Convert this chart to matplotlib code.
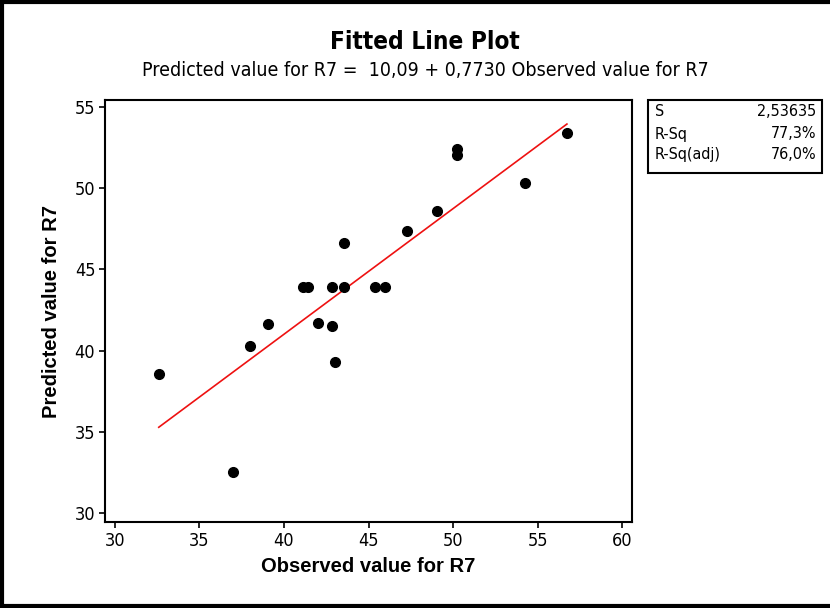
import matplotlib
matplotlib.use("Agg")
import matplotlib.pyplot as plt
from matplotlib.lines import Line2D
from matplotlib.patches import Rectangle
import numpy as np

observed = [32.59, 36.97, 38.00, 39.08, 41.10, 41.45, 42.04, 42.87, 42.87, 42.99,
            43.58, 43.58, 45.36, 45.95, 47.27, 49.04, 50.22, 50.22, 54.26, 56.74]
predicted = [38.58, 32.55, 40.30, 41.66, 43.90, 43.90, 41.68, 43.90, 41.54, 39.32,
             46.61, 43.90, 43.90, 43.90, 47.34, 48.58, 52.41, 52.02, 50.32, 53.40]
intercept = 10.09
slope = 0.7730
stat_names = ["S", "R-Sq", "R-Sq(adj)"]
stat_values = ["2,53635", "77,3%", "76,0%"]
xticks = [30, 35, 40, 45, 50, 55, 60]
yticks = [30, 35, 40, 45, 50, 55]

plt.rcParams['font.family'] = ['DejaVu Sans']
plt.rcParams['font.stretch'] = 'condensed'

W, H = 830, 608
fig = plt.figure(figsize=(W / 100, H / 100), dpi=100)

def fx(px):
    return px / W

def fy(py):
    return 1 - py / H

ax = fig.add_axes([fx(105), fy(522), fx(632) - fx(105), fy(100) - fy(522)])
ax.set_xlim(29.41, 60.59)
ax.set_ylim(29.45, 55.43)
ax.set_xticks(xticks)
ax.set_yticks(yticks)
ax.tick_params(direction='out', length=4, width=1.2, labelsize=13, colors='black', pad=3)
for s in ax.spines.values():
    s.set_linewidth(1.5)

obs = np.array(observed)
xl = np.array([obs.min(), obs.max()])
ax.plot(xl, intercept + slope * xl, color='#ee1111', lw=1.2, zorder=2)
ax.plot(observed, predicted, 'o', color='black', markersize=7, zorder=3)

ax.set_xlabel("Observed value for R7", fontsize=14.5, fontweight='bold', fontstretch='normal',
              family='Liberation Sans', labelpad=5)
ax.set_ylabel("Predicted value for R7", fontsize=14.5, fontweight='bold', fontstretch='normal',
              family='Liberation Sans', labelpad=10)

fig.text(0.512, fy(42), "Fitted Line Plot", ha='center', va='center', fontsize=17.5, fontweight='bold')
fig.text(0.513, fy(71), "Predicted value for R7 =  10,09 + 0,7730 Observed value for R7",
         ha='center', va='center', fontsize=14)

# stats box
bx0, by0, bx1, by1 = 648, 100, 822, 173
fig.patches.append(Rectangle((fx(bx0), fy(by1)), fx(bx1) - fx(bx0), fy(by0) - fy(by1),
                             transform=fig.transFigure, fill=False, edgecolor='black', lw=1.5))
rows_y = [112, 134, 155]
for name, val, yy in zip(stat_names, stat_values, rows_y):
    fig.text(fx(655), fy(yy), name, ha='left', va='center', fontsize=11.5)
    fig.text(fx(816), fy(yy), val, ha='right', va='center', fontsize=11.5)

# outer frame (left, top, bottom)
fig.lines.append(Line2D([fx(1.5), fx(1.5)], [0, 1], transform=fig.transFigure, color='black', lw=3))
fig.lines.append(Line2D([0, 1], [fy(1.5), fy(1.5)], transform=fig.transFigure, color='black', lw=3))
fig.lines.append(Line2D([0, 1], [fy(605.5), fy(605.5)], transform=fig.transFigure, color='black', lw=3))

fig.savefig("out.png", dpi=100)
